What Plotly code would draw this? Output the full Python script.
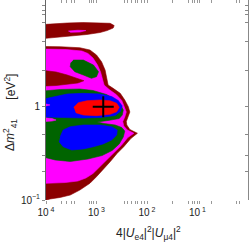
import plotly.graph_objects as go

# ---- data: region boundaries, as log10(4|Ue4|^2|Umu4|^2), log10(dm41^2 / eV^2)
dr_top_lx = [-4.05, -3.82, -3.58, -3.27, -2.93, -2.73, -2.65, -2.67, -2.79, -2.93, -3.19, -3.47, -3.72, -4.05]
dr_top_ly = [0.867, 0.878, 0.883, 0.888, 0.888, 0.880, 0.856, 0.830, 0.803, 0.782, 0.761, 0.745, 0.729, 0.718]

mag_streak_lx = [-3.56, -3.37, -3.21, -3.33, -3.52]
mag_streak_ly = [0.798, 0.806, 0.803, 0.787, 0.784]

dr_main_lx = [-4.05, -3.72, -3.33, -3.13, -3.00, -2.90, -2.83, -2.80, -2.77, -2.67, -2.53, -2.44, -2.37, -2.34,
              -2.37, -2.41, -2.40, -2.34, -2.19, -2.32, -2.46, -2.59, -2.73, -2.87, -3.00, -3.13, -3.33, -3.52,
              -3.72, -3.92, -4.05]
dr_main_ly = [0.633, 0.631, 0.620, 0.596, 0.543, 0.471, 0.383, 0.277, 0.223, 0.188, 0.135, 0.064, -0.007, -0.064,
              -0.117, -0.165, -0.202, -0.250, -0.290, -0.346, -0.433, -0.503, -0.593, -0.681, -0.752, -0.822, -0.894,
              -0.947, -0.973, -0.989, -1.01]

mag_lx = [-4.05, -3.60, -3.29, -3.17, -3.07, -2.98, -2.92, -2.88, -2.85, -2.75, -2.61, -2.50, -2.44, -2.41, -2.44,
          -2.48, -2.46, -2.39, -2.26, -2.38, -2.51, -2.65, -2.79, -2.93, -3.07, -3.21, -3.37, -3.62, -4.05]
mag_ly = [0.606, 0.601, 0.585, 0.559, 0.511, 0.436, 0.362, 0.277, 0.223, 0.176, 0.122, 0.059, -0.011, -0.064, -0.117,
          -0.165, -0.213, -0.255, -0.290, -0.335, -0.420, -0.495, -0.574, -0.649, -0.718, -0.766, -0.798, -0.814, -0.824]

dr_wedge_lx = [-4.05, -3.80, -3.58, -3.37, -3.25, -3.37, -3.58, -3.80, -4.05]
dr_wedge_ly = [0.378, 0.362, 0.330, 0.293, 0.269, 0.245, 0.229, 0.218, 0.213]

green_up_lx = [-3.46, -3.26, -3.06, -2.96, -3.00, -3.10, -3.26, -3.43, -3.52, -3.51]
green_up_ly = [0.489, 0.489, 0.436, 0.365, 0.312, 0.295, 0.330, 0.365, 0.418, 0.461]

green_lx = [-4.05, -3.72, -3.33, -3.07, -2.80, -2.63, -2.52, -2.47, -2.49, -2.55, -2.77, -2.99, -2.85, -2.63, -2.50,
            -2.44, -2.47, -2.55, -2.69, -2.89, -3.17, -3.52, -3.82, -4.05]
green_ly = [0.160, 0.176, 0.181, 0.165, 0.122, 0.069, 0.011, -0.043, -0.096, -0.133, -0.154, -0.170, -0.186, -0.202,
            -0.229, -0.266, -0.330, -0.404, -0.473, -0.527, -0.564, -0.590, -0.574, -0.543]

blue_up_lx = [-4.05, -3.78, -3.58, -3.27, -2.93, -2.70, -2.57, -2.49, -2.53, -2.63, -2.93, -3.27, -3.58, -3.86, -4.05]
blue_up_ly = [0.074, 0.106, 0.128, 0.135, 0.128, 0.101, 0.059, 0.000, -0.059, -0.101, -0.122, -0.128, -0.122, -0.112, -0.117]

blue_lo_lx = [-3.72, -3.66, -3.52, -3.26, -2.93, -2.70, -2.59, -2.60, -2.70, -2.87, -3.06, -3.26, -3.49, -3.66, -3.74]
blue_lo_ly = [-0.327, -0.255, -0.220, -0.202, -0.202, -0.220, -0.255, -0.309, -0.362, -0.404, -0.433, -0.457, -0.468, -0.433, -0.380]

red_lx = [-3.45, -3.36, -3.19, -2.93, -2.73, -2.60, -2.55, -2.60, -2.73, -3.00, -3.26, -3.41]
red_ly = [-0.014, 0.035, 0.056, 0.064, 0.056, 0.029, -0.014, -0.061, -0.088, -0.103, -0.096, -0.071]

mag_spot_lx = [-4.05, -3.92, -4.05]
mag_spot_ly = [0.027, 0.011, -0.005]

mag_sliver_lx = [-4.05, -3.88, -3.80, -3.88, -4.05]
mag_sliver_ly = [-0.122, -0.133, -0.149, -0.160, -0.165]

best_fit_x = [1.36e-3]
best_fit_y = [0.98]

x_tick_vals = [1e-4, 2e-4, 2.6e-4, 3.2e-4, 3.7e-4, 7.4e-4, 8e-4, 8.6e-4, 1e-3, 3.6e-3, 4.2e-3, 5e-3, 5.8e-3,
               6.6e-3, 7.9e-3, 9.1e-3, 1e-2, 3.2e-2, 6.5e-2, 7.8e-2, 8.9e-2, 1e-1, 1.1e-1, 1.9e-1, 6e-1, 6.9e-1]
x_tick_labels = {1e-4: "10<sup>\u00a04</sup>", 1e-3: "10<sup>\u00a03</sup>",
                 1e-2: "10<sup>\u00a02</sup>", 1e-1: "10<sup>\u00a01</sup>"}
y_tick_vals = [0.1, 0.2, 0.3, 0.5, 1, 2.4, 4.9, 7.8, 9.3, 10.5, 11.6]
y_tick_labels = {0.1: "10<sup>\u22121</sup>", 1: "1"}

DARKRED = "rgb(139,0,0)"
MAGENTA = "rgb(255,0,255)"
GREEN = "rgb(0,100,0)"
BLUE = "rgb(0,0,255)"
RED = "rgb(255,0,0)"

fig = go.Figure()


def region(lx, ly, color):
    fig.add_trace(go.Scatter(x=[10 ** v for v in lx], y=[10 ** v for v in ly], fill="toself",
                             fillcolor=color, mode="lines", line=dict(width=0.6, color=color),
                             hoverinfo="skip", showlegend=False))


region(dr_main_lx, dr_main_ly, DARKRED)
region(mag_lx, mag_ly, MAGENTA)
region(dr_wedge_lx, dr_wedge_ly, DARKRED)
region(green_up_lx, green_up_ly, GREEN)
region(green_lx, green_ly, GREEN)
region(mag_sliver_lx, mag_sliver_ly, MAGENTA)
region(blue_up_lx, blue_up_ly, BLUE)
region(blue_lo_lx, blue_lo_ly, BLUE)
region(mag_spot_lx, mag_spot_ly, MAGENTA)
region(red_lx, red_ly, RED)
region(dr_top_lx, dr_top_ly, DARKRED)
region(mag_streak_lx, mag_streak_ly, MAGENTA)

fig.add_trace(go.Scatter(x=best_fit_x, y=best_fit_y, mode="markers", showlegend=False, hoverinfo="skip",
                         marker=dict(symbol="cross-thin", size=15, line=dict(width=2, color="black"))))
fig.add_trace(go.Scatter(x=[None], y=[None], xaxis="x2", yaxis="y2", showlegend=False))

FONT = "Liberation Sans, Arial, sans-serif"
tickfont = dict(family=FONT, size=10, color="#222")
fig.update_layout(
    width=249, height=243, margin=dict(l=46, r=1, t=0, b=43),
    plot_bgcolor="white", paper_bgcolor="white", hovermode=False,
    xaxis=dict(type="log", range=[-4, 0], tickvals=x_tick_vals,
               ticktext=[x_tick_labels.get(v, "") for v in x_tick_vals],
               ticks="outside", ticklen=3, tickcolor="#999", showline=False, showgrid=False,
               zeroline=False, tickfont=tickfont, tickangle=0),
    xaxis2=dict(type="log", range=[-4, 0], overlaying="x", side="top", tickvals=x_tick_vals,
                ticks="inside", ticklen=3, tickcolor="#999", showticklabels=False, showline=False,
                showgrid=False, zeroline=False),
    yaxis=dict(type="log", range=[-1, 1.128], tickvals=y_tick_vals,
               ticktext=[y_tick_labels.get(v, "") for v in y_tick_vals],
               ticks="outside", ticklen=3, tickcolor="#888", showline=True, linecolor="#666", linewidth=1,
               showgrid=False, zeroline=False, tickfont=tickfont),
    yaxis2=dict(type="log", range=[-1, 1.128], overlaying="y", side="right", tickvals=y_tick_vals,
                ticks="inside", ticklen=3, tickcolor="#888", showline=True, linecolor="#888", linewidth=1,
                showticklabels=False, showgrid=False, zeroline=False),
    annotations=[
        dict(text="4|<i>U</i><sub>e4</sub>|<sup>2</sup>|<i>U</i><sub>\u03bc4</sub>|<sup>2</sup>",
             xref="paper", yref="paper", x=0.505, y=-0.165, xanchor="center", yanchor="middle",
             showarrow=False, font=dict(family=FONT, size=12, color="#222")),
        dict(text="\u0394<i>m</i><sup>2</sup><sub>41</sub>",
             xref="paper", yref="paper", x=-0.178, y=0.325, xanchor="center", yanchor="middle",
             textangle=-90, showarrow=False, font=dict(family=FONT, size=12, color="#222")),
        dict(text="[eV<sup>2</sup>]",
             xref="paper", yref="paper", x=-0.18, y=0.565, xanchor="center", yanchor="middle",
             textangle=-90, showarrow=False, font=dict(family=FONT, size=12, color="#222")),
    ],
)

fig.write_html("out.html", config={"displayModeBar": False, "staticPlot": True},
               post_script="document.body.style.margin='0';document.body.style.overflow='hidden';")
